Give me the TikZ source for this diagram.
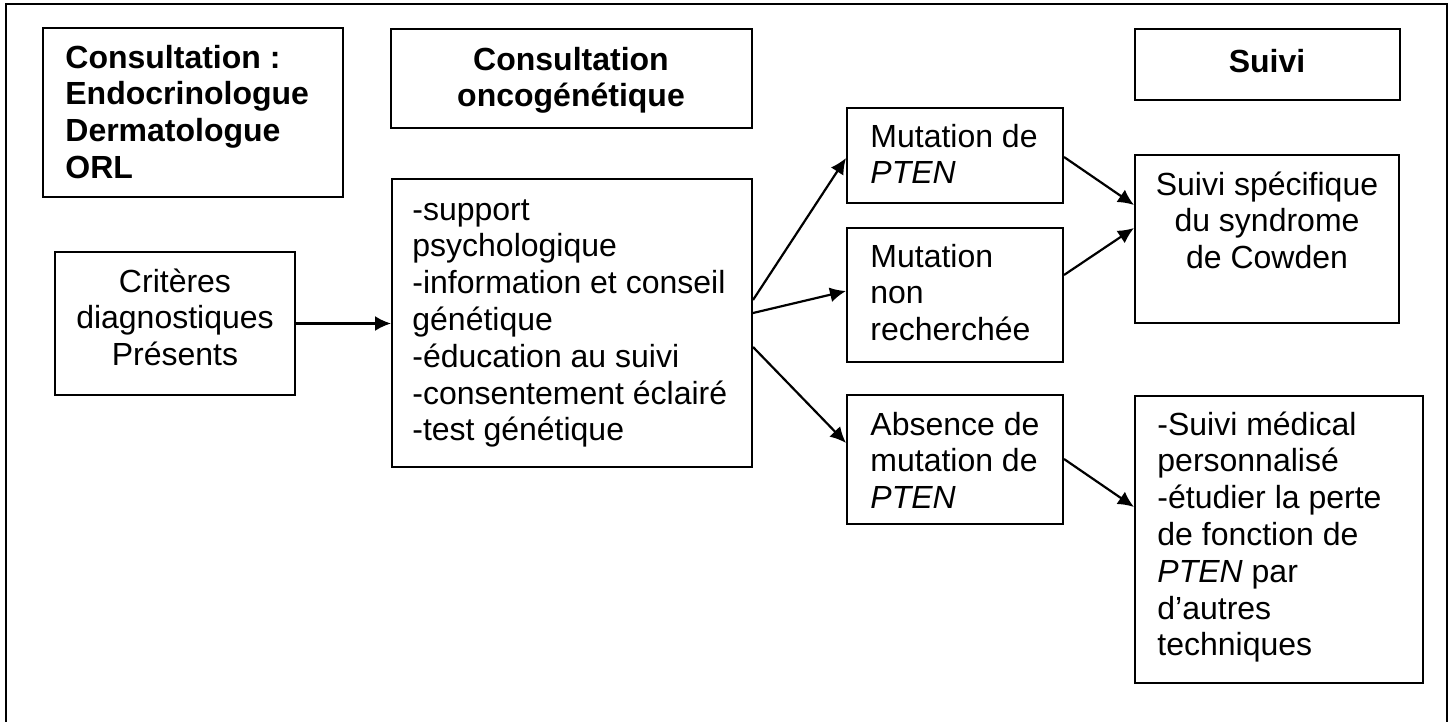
\documentclass[tikz,border=0pt]{standalone}
\usepackage{fontspec}
\setmainfont{Liberation Sans}
\usetikzlibrary{arrows.meta,fit,calc}
\begin{document}
\begin{tikzpicture}[x=0.5pt,y=-0.5pt,
  box/.style={draw=black, line width=1pt, inner sep=0pt},
  txt/.style={inner sep=0pt, font=\fontsize{16pt}{18.4pt}\selectfont},
  btxt/.style={txt, font=\fontsize{16pt}{18.4pt}\selectfont\bfseries},
  arr/.style={line width=1.1pt, -{Latex[length=8pt,width=7.5pt]}}]
\useasboundingbox (0,0) rectangle (1455,722);
% outer frame
\draw[line width=1.3pt] (6,722) -- (6,4) -- (1447,4) -- (1447,722);
% boxes
\node[box, fit={(43,28) (343,197)}] (cons) {};
\node[box, fit={(391,29) (752,128)}] (onco) {};
\node[box, fit={(1135,29) (1400,100)}] (suivi) {};
\node[box, fit={(55,252) (295,395)}] (crit) {};
\node[box, fit={(392,179) (752,467)}] (list) {};
\node[box, fit={(847,108) (1063,203)}] (mut1) {};
\node[box, fit={(847,228) (1063,362)}] (mut2) {};
\node[box, fit={(847,395) (1063,524)}] (abs) {};
\node[box, fit={(1135,155) (1399,323)}] (spec) {};
\node[box, fit={(1135,396) (1423,683)}] (perso) {};
% texts
\node[btxt, anchor=north west, align=left] (consT) at (65,42) {\strut Consultation :\\Endocrinologue\\Dermatologue\\ORL};
\node[btxt, anchor=north, align=center] (oncoT) at (571,44) {\strut Consultation\\oncogénétique};
\node[btxt, anchor=north, align=center] (suiviT) at (1267,46) {\strut Suivi};
\node[txt, anchor=north, align=center] (critT) at (175,266) {\strut Critères\\diagnostiques\\Présents};
\node[txt, anchor=north west, align=left] (listT) at (412,194) {\strut -support\\psychologique\\-information et conseil\\génétique\\-éducation au suivi\\-consentement éclairé\\-test génétique};
\node[txt, anchor=north west, align=left] (mut1T) at (870,121) {\strut Mutation de\\\textit{PTEN}};
\node[txt, anchor=north west, align=left] (mut2T) at (870,241) {\strut Mutation\\non\\recherchée};
\node[txt, anchor=north west, align=left] (absT) at (870,409) {\strut Absence de\\mutation de\\\textit{PTEN}};
\node[txt, anchor=north, align=center] (specT) at (1267,169) {\strut Suivi spécifique\\du syndrome\\de Cowden};
\node[txt, anchor=north west, align=left] (persoT) at (1157,409) {\strut -Suivi médical\\personnalisé\\-étudier la perte\\de fonction de\\\textit{PTEN} par\\d’autres\\techniques};
% arrows
\draw[arr] (crit.east) -- (crit.east -| list.west);
\draw[arr] ($(list.east)+(0,-23)$) -- ($(mut1.west)+(0,2.5)$);
\draw[arr] ($(list.east)+(0,-10)$) -- ($(mut2.west)+(0,-4)$);
\draw[arr] ($(list.east)+(0,24)$) -- ($(abs.west)+(0,-16.5)$);
\draw[arr] ($(mut1.east)+(0,1.5)$) -- ($(spec.west)+(0,-34)$);
\draw[arr] ($(mut2.east)+(0,-20)$) -- ($(spec.west)+(0,-11)$);
\draw[arr] ($(abs.east)+(0,-0.5)$) -- ($(perso.west)+(0,-32.5)$);
\end{tikzpicture}
\end{document}
